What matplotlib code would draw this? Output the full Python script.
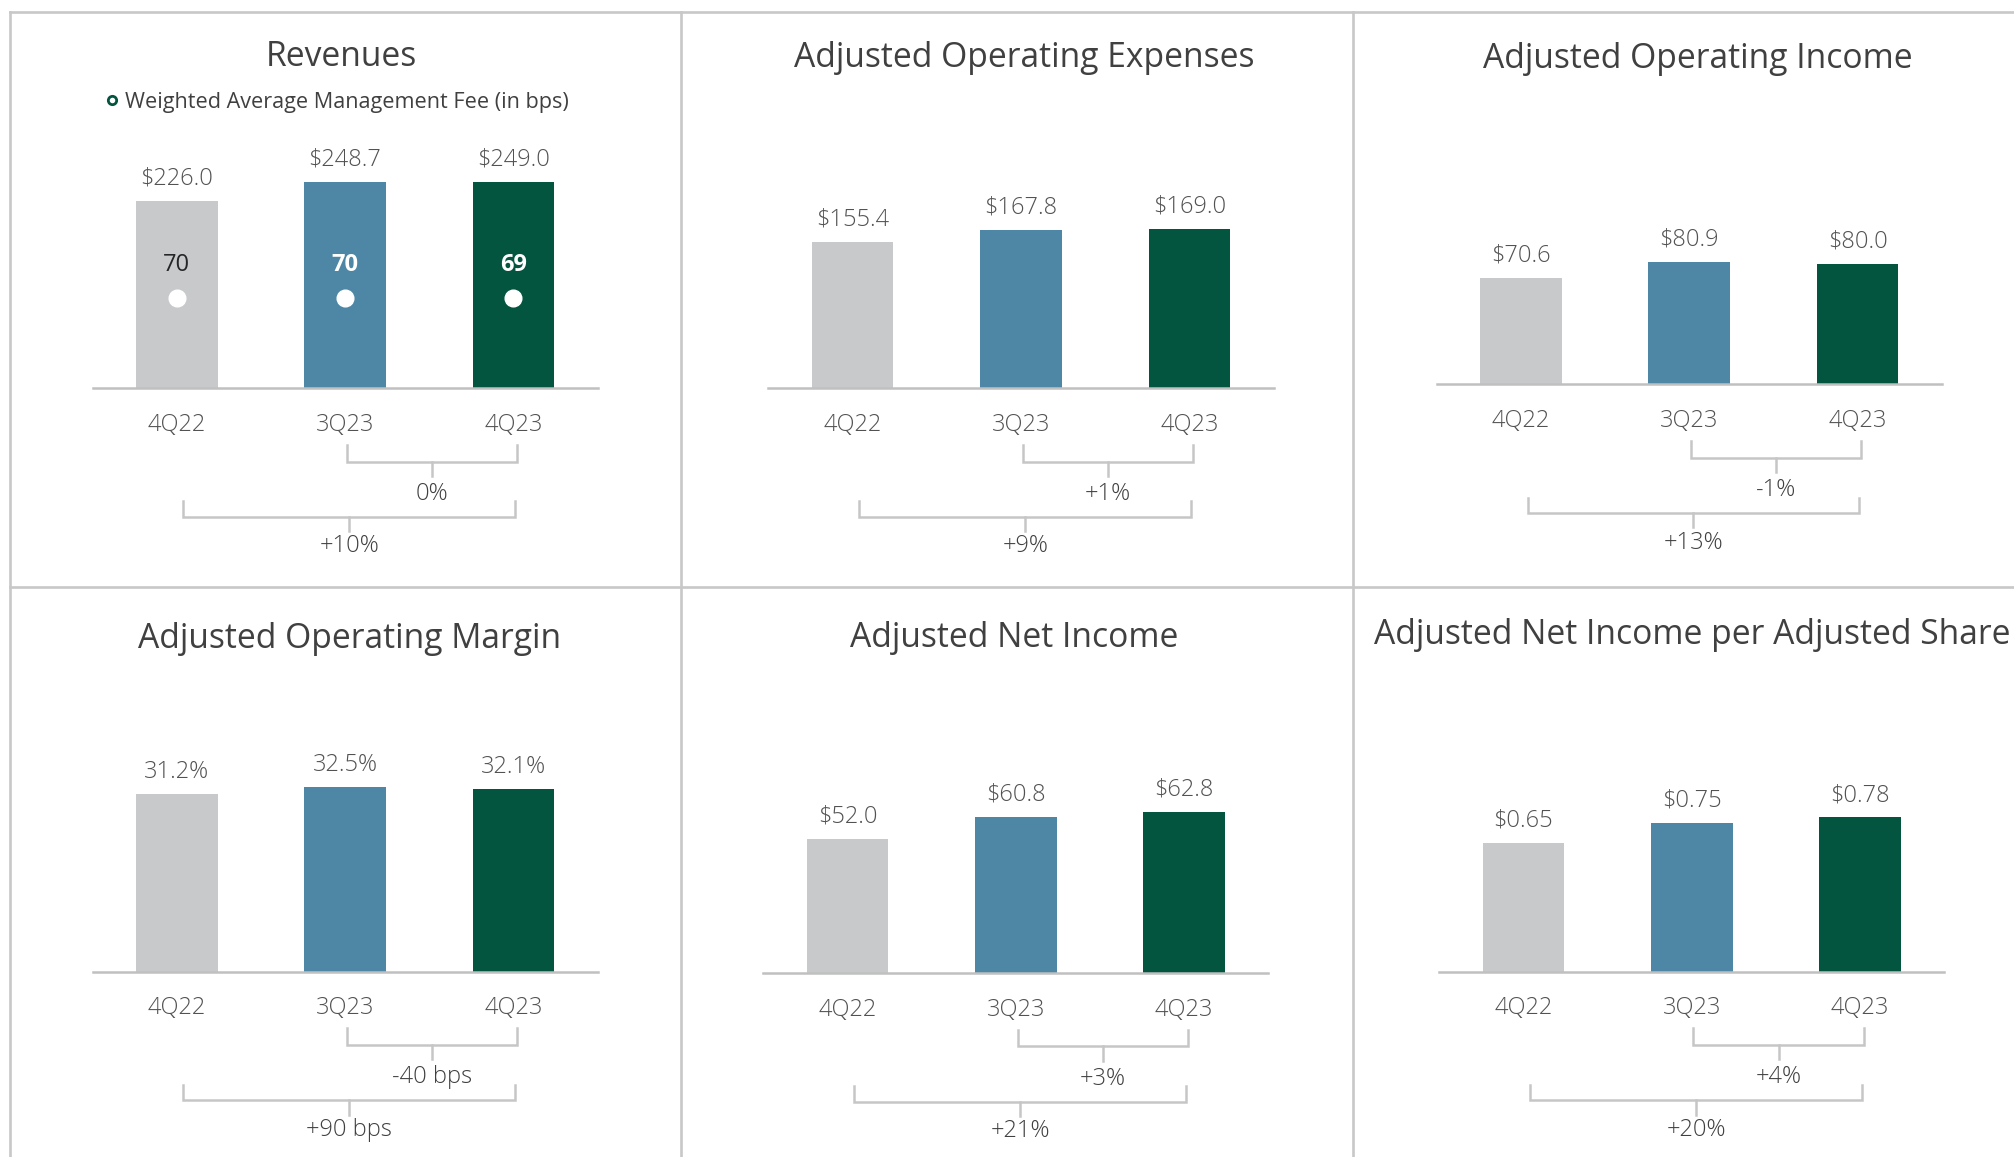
import matplotlib
matplotlib.use("Agg")
import matplotlib.pyplot as plt
from matplotlib.lines import Line2D
from matplotlib.transforms import blended_transform_factory

plt.rcParams['font.family'] = ['Open Sans', 'DejaVu Sans']

# ---------------- data ----------------
quarters = ['4Q22', '3Q23', '4Q23']
revenues = [226.0, 248.7, 249.0]
mgmt_fee_bps = [70, 70, 69]
op_expenses = [155.4, 167.8, 169.0]
op_income = [70.6, 80.9, 80.0]
op_margin = [31.2, 32.5, 32.1]
net_income = [52.0, 60.8, 62.8]
eps = [0.65, 0.75, 0.78]

rev_changes = ['0%', '+10%']
opex_changes = ['+1%', '+9%']
opinc_changes = ['-1%', '+13%']
margin_changes = ['-40 bps', '+90 bps']
ni_changes = ['+3%', '+21%']
eps_changes = ['+4%', '+20%']

titles = ['Revenues', 'Adjusted Operating Expenses', 'Adjusted Operating Income',
          'Adjusted Operating Margin', 'Adjusted Net Income',
          'Adjusted Net Income per Adjusted Share']

bar_colors = ['#C8C9CB', '#4E87A6', '#03553F']
TITLE_C = '#404040'
LABEL_C = '#525252'
LINE_C = '#C6C6C6'
LIGHT = 'light'

W, H = 1568.0, 900.0
def fx(x):
    return x / W
def fy(y):
    return 1 - y / H

fig = plt.figure(figsize=(20.15, 11.57), dpi=100)
fig.patch.set_facecolor('white')

# panel borders
blw = 1.9
for (x0, y0, x1, y1) in [(8, 9, W, 9), (8, 9, 8, H), (530, 9, 530, H),
                         (1053, 9, 1053, H), (8, 457, W, 457)]:
    fig.add_artist(Line2D([fx(x0), fx(x1)], [fy(y0), fy(y1)], color='#C8C8C8',
                          lw=blw, transform=fig.transFigure))

# panel specs: (values, fmt, changes, ax_left, baseline, ax_top, ymax, title_xy)
panels = [
    (revenues, '${:.1f}', rev_changes, 72, 302, 100, 313.0, (266, 44)),
    (op_expenses, '${:.1f}', opex_changes, 598, 302, 100, 275.6, (797, 45)),
    (op_income, '${:.1f}', opinc_changes, 1118, 299, 100, 169.4, (1321, 46)),
    (op_margin, '{:.1f}%', margin_changes, 72, 756, 560, 44.3, (272, 497)),
    (net_income, '${:.1f}', ni_changes, 594, 757, 560, 98.5, (789, 496)),
    (eps, '${:.2f}', eps_changes, 1120, 756, 560, 1.273, (1317, 494)),
]

def px_pts(p):
    # shrunk px -> points
    return p * (2015.0 / 1568.0) * 72.0 / 100.0

axes = []
for k, (vals, fmt, chg, x0, base, top, ymax, txy) in enumerate(panels):
    ax = fig.add_axes([fx(x0), fy(base), 393 / W, (base - top) / H])
    axes.append(ax)
    xs = list(range(len(quarters)))
    ax.bar(xs, vals, width=0.485, color=bar_colors, zorder=2)
    ax.set_xlim(-0.5, 2.5)
    ax.set_ylim(0, ymax)
    for s in ['top', 'right', 'left']:
        ax.spines[s].set_visible(False)
    ax.spines['bottom'].set_color('#C0C0C0')
    ax.spines['bottom'].set_linewidth(1.8)
    ax.set_yticks([])
    ax.set_xticks(xs)
    ax.set_xticklabels(quarters, fontsize=17, color=LABEL_C, fontweight=LIGHT)
    ax.tick_params(axis='x', length=0, pad=px_pts(19))
    ax.patch.set_alpha(0)
    for i, v in enumerate(vals):
        ax.annotate(fmt.format(v), xy=(i, v), xytext=(0, px_pts(17.5)),
                    textcoords='offset points', ha='center', va='center',
                    fontsize=17, color=LABEL_C, fontweight=LIGHT)
    # brackets
    tr = blended_transform_factory(ax.transData, fig.transFigure)
    def bracket(xa, xb, ytop, ybot, ytick, ylab, text):
        ax.plot([xa, xa, xb, xb], [fy(base + ytop), fy(base + ybot), fy(base + ybot), fy(base + ytop)],
                color=LINE_C, lw=1.8, transform=tr, clip_on=False, solid_joinstyle='miter')
        xm = (xa + xb) / 2
        ax.plot([xm, xm], [fy(base + ybot), fy(base + ytick)], color=LINE_C, lw=1.8,
                transform=tr, clip_on=False)
        ax.text(xm, fy(base + ylab), text, transform=tr, ha='center', va='center',
                fontsize=17, color=TITLE_C, fontweight=LIGHT)
    bracket(1.01, 2.02, 44, 57, 68, 82, chg[0])
    bracket(0.04, 2.01, 88, 100, 111, 123, chg[1])
    fig.text(fx(txy[0]), fy(txy[1]), titles[k], ha='center', va='center',
             fontsize=24.2, color=TITLE_C)

# Revenues extras: weighted average management fee
ax = axes[0]
trb = blended_transform_factory(ax.transData, ax.transAxes)
fee_text_colors = ['#262626', 'white', 'white']
fee_weights = ['normal', 'bold', 'bold']
for i, f in enumerate(mgmt_fee_bps):
    ax.text(i, 0.475, str(f), transform=trb, ha='center', va='center', fontsize=17,
            color=fee_text_colors[i], fontweight=fee_weights[i], zorder=3)
    ax.plot([i], [0.349], marker='o', ms=12, color='white', mec='white',
            transform=trb, zorder=3, clip_on=False)

fig.add_artist(Line2D([fx(87)], [fy(78)], marker='o', ms=6, mfc='white', mec='#03553F',
                      mew=2, transform=fig.transFigure))
fig.text(fx(97), fy(79.5), 'Weighted Average Management Fee (in bps)', ha='left',
         va='center', fontsize=15.6, color=TITLE_C)

fig.savefig('out.png', dpi=100, facecolor='white')
